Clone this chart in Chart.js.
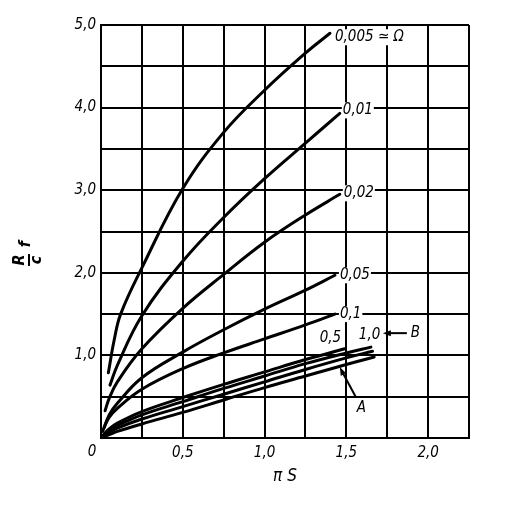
<!DOCTYPE html>
<html><head><meta charset="utf-8">
<script src="https://cdn.jsdelivr.net/npm/chart.js@4.4.1/dist/chart.umd.min.js"></script>
<style>html,body{margin:0;padding:0;background:#fff}#wrap{width:512px;height:509px}</style>
</head><body><div id="wrap"><canvas id="c" width="512" height="509"></canvas></div>
<script>
// Series names (Ω values) and their points
const seriesNames = ["0,005", "0,01", "0,02", "0,05", "0,1", "0,5", "1,0", "A1", "A2"];
const x_0005 = [0.045, 0.08, 0.12, 0.25, 0.5, 0.75, 1.0, 1.25, 1.40];
const y_0005 = [0.79, 1.18, 1.50, 2.06, 3.02, 3.70, 4.21, 4.66, 4.90];
const x_001 = [0.055, 0.10, 0.25, 0.50, 0.75, 1.0, 1.25, 1.46];
const y_001 = [0.64, 0.88, 1.48, 2.14, 2.67, 3.14, 3.57, 3.93];
const x_002 = [0.025, 0.05, 0.10, 0.25, 0.50, 0.75, 1.0, 1.25, 1.46];
const y_002 = [0.33, 0.48, 0.68, 1.08, 1.57, 1.98, 2.37, 2.70, 2.95];
const x_005 = [0.01, 0.05, 0.10, 0.25, 0.50, 0.75, 1.0, 1.25, 1.43];
const y_005 = [0.08, 0.28, 0.42, 0.73, 1.04, 1.31, 1.56, 1.79, 1.97];
const x_01 = [0.02, 0.05, 0.10, 0.25, 0.50, 0.75, 1.0, 1.25, 1.43];
const y_01 = [0.13, 0.25, 0.36, 0.59, 0.84, 1.03, 1.20, 1.37, 1.50];
const x_05 = [0.01, 0.05, 0.10, 0.25, 0.50, 0.75, 1.0, 1.25, 1.49];
const y_05 = [0.03, 0.11, 0.18, 0.32, 0.49, 0.65, 0.80, 0.95, 1.08];
const x_10 = [0.01, 0.05, 0.10, 0.25, 0.50, 0.75, 1.0, 1.25, 1.50, 1.65];
const y_10 = [0.02, 0.09, 0.15, 0.28, 0.44, 0.60, 0.75, 0.90, 1.03, 1.10];
const x_A1 = [0.01, 0.05, 0.10, 0.25, 0.50, 0.75, 1.0, 1.25, 1.50, 1.66];
const y_A1 = [0.02, 0.07, 0.12, 0.23, 0.38, 0.53, 0.68, 0.83, 0.97, 1.05];
const x_A2 = [0.01, 0.05, 0.10, 0.25, 0.50, 0.75, 1.0, 1.25, 1.50, 1.67];
const y_A2 = [0.01, 0.04, 0.08, 0.17, 0.31, 0.46, 0.61, 0.75, 0.89, 0.98];
// axis ranges / ticks
const xMin = 0, xMax = 2.25, xStep = 0.25;
const yMin = 0, yMax = 5, yStep = 0.5;
const xTickLabels = [0.5, 1.0, 1.5, 2.0];
const yTickLabels = [1, 2, 3, 4, 5];

const xsAll = [x_0005, x_001, x_002, x_005, x_01, x_05, x_10, x_A1, x_A2];
const ysAll = [y_0005, y_001, y_002, y_005, y_01, y_05, y_10, y_A1, y_A2];
const FONT = '"Liberation Sans Narrow", "DejaVu Sans Condensed", "Liberation Sans", sans-serif';
const fmt = v => v.toFixed(1).replace('.', ',');

const datasets = seriesNames.map((n, i) => ({
  label: n,
  data: xsAll[i].map((x, k) => ({x: x, y: ysAll[i][k]})),
  borderColor: '#000', borderWidth: 3, pointRadius: 0, fill: false,
  tension: 0.4, showLine: true, borderCapStyle: 'round'
}));

const labelPlugin = {
  id: 'labels',
  afterDatasetsDraw(chart) {
    const ctx = chart.ctx;
    const xs = chart.scales.x, ys = chart.scales.y;
    const endPx = i => {
      const xa = xsAll[i], ya = ysAll[i];
      return {x: xs.getPixelForValue(xa[xa.length - 1]), y: ys.getPixelForValue(ya[ya.length - 1])};
    };
    ctx.save();
    ctx.font = 'italic 15px ' + FONT;
    ctx.fillStyle = '#000';
    ctx.textBaseline = 'middle';
    ctx.textAlign = 'left';
    const put = (txt, x, y) => {
      const w = ctx.measureText(txt).width;
      ctx.fillStyle = '#fff';
      ctx.fillRect(x - 1, y - 8, w + 2, 16);
      ctx.fillStyle = '#000';
      ctx.fillText(txt, x, y);
    };
    let p = endPx(0); put('0,005 \u2243 \u03A9', p.x + 5, p.y + 4);
    p = endPx(1); put('0,01', p.x + 3, p.y - 3);
    p = endPx(2); put('0,02', p.x + 4, p.y - 1);
    p = endPx(3); put('0,05', p.x + 5, p.y);
    p = endPx(4); put('0,1', p.x + 5, p.y);
    p = endPx(5); ctx.fillText('0,5', p.x - 25, p.y - 11);
    p = endPx(6); ctx.fillText('1,0', p.x - 12, p.y - 12);
    // B with arrow
    ctx.fillText('B', p.x + 40, p.y - 14);
    ctx.lineWidth = 2; ctx.strokeStyle = '#000';
    ctx.beginPath(); ctx.moveTo(p.x + 36, p.y - 14); ctx.lineTo(p.x + 16, p.y - 14); ctx.stroke();
    ctx.beginPath(); ctx.moveTo(p.x + 12, p.y - 14); ctx.lineTo(p.x + 20, p.y - 17); ctx.lineTo(p.x + 20, p.y - 11); ctx.closePath(); ctx.fill();
    // A with arrow
    const ax = xs.getPixelForValue(1.46), ay = ys.getPixelForValue(0.86);
    ctx.fillText('A', ax + 17, ay + 41);
    ctx.beginPath(); ctx.moveTo(ax + 16, ay + 30); ctx.lineTo(ax + 2, ay + 4); ctx.stroke();
    ctx.beginPath(); ctx.moveTo(ax, ay); ctx.lineTo(ax + 1, ay + 9); ctx.lineTo(ax + 6, ay + 6); ctx.closePath(); ctx.fill();
    // origin zero
    ctx.textAlign = 'center';
    ctx.fillText('0', chart.chartArea.left - 9, chart.chartArea.bottom + 14);
    // x title
    ctx.font = 'italic 17px ' + FONT;
    ctx.fillText('\u03C0 S', (chart.chartArea.left + chart.chartArea.right) / 2, chart.chartArea.bottom + 39);
    // y title: R / c  f rotated
    ctx.translate(28, 254);
    ctx.rotate(-Math.PI / 2);
    ctx.font = 'italic bold 16px ' + FONT;
    ctx.fillText('R', -6, -8);
    ctx.fillText('c', -6, 9);
    ctx.lineWidth = 2;
    ctx.beginPath(); ctx.moveTo(-12, 1); ctx.lineTo(0, 1); ctx.stroke();
    ctx.fillText('f', 10, -2);
    ctx.restore();
  }
};

new Chart(document.getElementById('c'), {
  type: 'scatter',
  data: {datasets},
  options: {
    responsive: false, animation: false,
    layout: {padding: {left: 0, right: 43, top: 25, bottom: 0}},
    plugins: {legend: {display: false}, tooltip: {enabled: false}},
    scales: {
      x: {
        type: 'linear', min: xMin, max: xMax,
        afterFit: s => { s.height = 71; },
        ticks: {stepSize: xStep, color: '#000', padding: 6, maxRotation: 0, autoSkip: false,
          font: {family: FONT, size: 15, style: 'italic'},
          callback: v => xTickLabels.some(t => Math.abs(t - v) < 1e-6) ? fmt(v) : ''},
        grid: {color: '#000', lineWidth: 2, drawTicks: false},
        border: {color: '#000', width: 2}
      },
      y: {
        type: 'linear', min: yMin, max: yMax,
        afterFit: s => { s.width = 101; },
        ticks: {stepSize: yStep, color: '#000', padding: 5, autoSkip: false,
          font: {family: FONT, size: 15, style: 'italic'},
          callback: v => yTickLabels.some(t => Math.abs(t - v) < 1e-6) ? fmt(v) : ''},
        grid: {color: '#000', lineWidth: 2, drawTicks: false},
        border: {color: '#000', width: 2}
      }
    }
  },
  plugins: [labelPlugin]
});
</script></body></html>
